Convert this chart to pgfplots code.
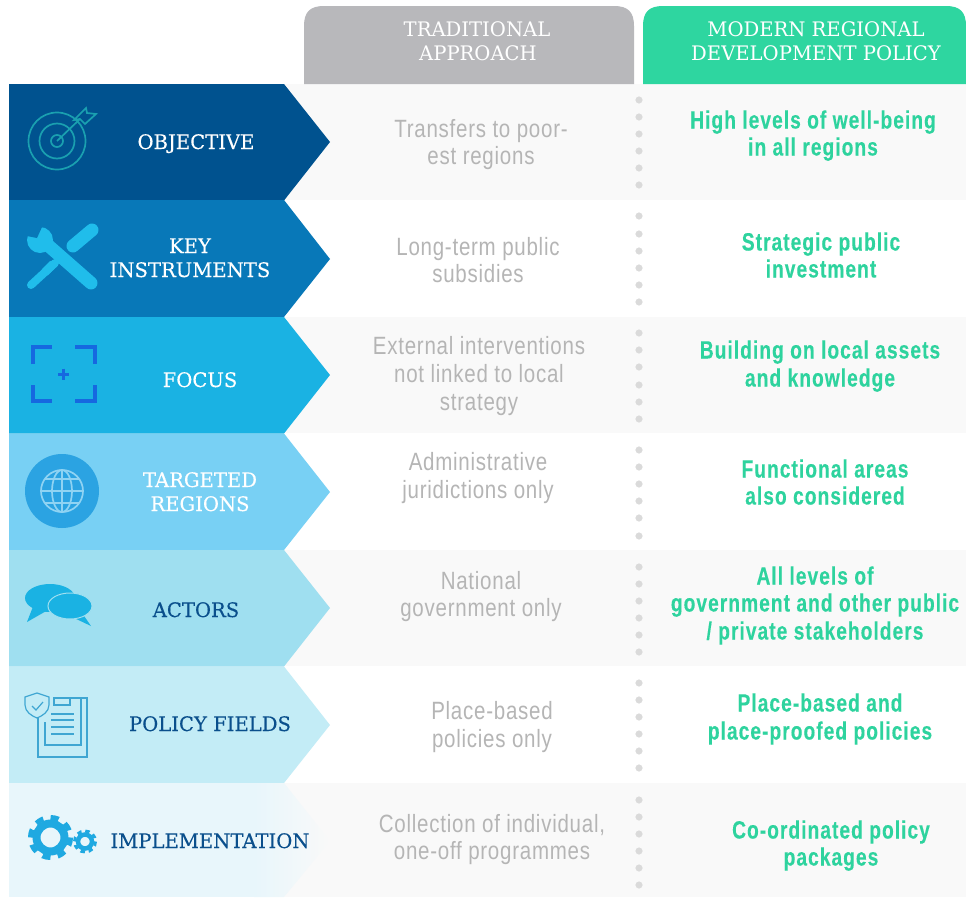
\documentclass[border=0pt]{standalone}
\usepackage{pgfplots}
\pgfplotsset{compat=1.18}
\usepackage{fontspec}
\setmainfont{Liberation Sans}
\newfontfamily\headf[FakeStretch=0.98]{DejaVu Serif}
\newfontfamily\labf[FakeStretch=0.98,FakeBold=0.25]{DejaVu Serif}
\newfontfamily\bodyf[FakeStretch=0.82,LetterSpace=3]{Liberation Sans}
\newfontfamily\boldf[UprightFont={* Bold},FakeStretch=0.77,LetterSpace=4,FakeBold=0.2]{Liberation Sans}
\definecolor{c1}{HTML}{00528F}
\definecolor{c2}{HTML}{0878B8}
\definecolor{c3}{HTML}{1AB2E3}
\definecolor{c4}{HTML}{78D0F4}
\definecolor{c5}{HTML}{9FDFF0}
\definecolor{c6}{HTML}{C3ECF6}
\definecolor{c7}{HTML}{E8F6FB}
\definecolor{rowg}{HTML}{F9F9F9}
\definecolor{hgray}{HTML}{B8B8BB}
\definecolor{hgreen}{HTML}{2ED6A0}
\definecolor{tgray}{HTML}{B5B5B5}
\definecolor{tgreen}{HTML}{2ED39E}
\definecolor{navy}{HTML}{0A4F8C}
\definecolor{dotg}{HTML}{DADADA}
\definecolor{wrench}{HTML}{20BDEB}
\newcommand{\Gt}[3]{\node[text=tgray,font=\fontsize{25}{25}\selectfont\bodyf,anchor=base,inner sep=0pt] at (axis cs:#1,#2+8.5) {#3};}
\newcommand{\Mt}[3]{\node[text=tgreen,font=\fontsize{25}{25}\selectfont\boldf,anchor=base,inner sep=0pt] at (axis cs:#1,#2+8.5) {#3};}
\newcommand{\Lw}[3]{\node[text=white,font=\fontsize{20}{20}\selectfont\labf,anchor=base,inner sep=0pt] at (axis cs:#1,#2+7) {#3};}
\newcommand{\Ln}[3]{\node[text=navy,font=\fontsize{20}{20}\selectfont\labf,anchor=base,inner sep=0pt] at (axis cs:#1,#2+7) {#3};}
\newcommand{\Hd}[3]{\node[text=white,font=\fontsize{20}{20}\selectfont\headf,anchor=base,inner sep=0pt] at (axis cs:#1,#2+7) {#3};}
\begin{document}
\begin{tikzpicture}
\begin{axis}[scale only axis,width=966pt,height=897pt,xmin=0,xmax=966,ymin=0,ymax=897,y dir=reverse,axis lines=none,clip=true]
\fill[white] (0,0) rectangle (966,897);
% row backgrounds
\addplot[draw=none,fill=rowg] coordinates {(284,84)(966,84)(966,200)(284,200)} --cycle;
\addplot[draw=none,fill=rowg] coordinates {(284,317)(966,317)(966,433)(284,433)} --cycle;
\addplot[draw=none,fill=rowg] coordinates {(284,550)(966,550)(966,666)(284,666)} --cycle;
\addplot[draw=none,fill=rowg] coordinates {(284,783)(966,783)(966,897)(284,897)} --cycle;
% headers
\fill[hgray] (304,84)--(304,26) .. controls (304,12) and (310,6) .. (324,6) -- (614,6) .. controls (628,6) and (634,12) .. (634,26) -- (634,84) -- cycle;
\fill[hgreen] (643,84)--(643,26) .. controls (643,12) and (649,6) .. (663,6) -- (946,6) .. controls (960,6) and (966,12) .. (966,26) -- (966,84) -- cycle;
% chevrons
\addplot[draw=none,fill=c1] coordinates {(9,84)(284,84)(330,142)(284,200.5)(9,200.5)} --cycle;
\addplot[draw=none,fill=c2] coordinates {(9,200)(284,200)(330,259)(284,317)(9,317)} --cycle;
\addplot[draw=none,fill=c3] coordinates {(9,317)(284,317)(330,375)(284,433.5)(9,433.5)} --cycle;
\addplot[draw=none,fill=c4] coordinates {(9,433.5)(284,433.5)(330,492)(284,550)(9,550)} --cycle;
\addplot[draw=none,fill=c5] coordinates {(9,550)(284,550)(330,608)(284,666.5)(9,666.5)} --cycle;
\addplot[draw=none,fill=c6] coordinates {(9,666.5)(284,666.5)(330,725)(284,783)(9,783)} --cycle;
\addplot[draw=none,fill=c7] coordinates {(9,783)(255,783)(255,897)(9,897)} --cycle;
\addplot[draw=none,left color=c7,right color=rowg] coordinates {(254,783)(284,783)(330,841)(284,897)(254,897)} --cycle;
% dotted separators
\addplot[only marks,mark=*,color=dotg,mark size=3.3pt] coordinates {
(639,100)(639,117)(639,134)(639,151)(639,168)(639,185)
(639,216)(639,234)(639,251)(639,268)(639,285)(639,302)
(639,333)(639,350)(639,367)(639,385)(639,402)(639,419)
(639,450)(639,467)(639,484)(639,501)(639,518)(639,536)
(639,567)(639,584)(639,601)(639,618)(639,635)(639,652)
(639,683)(639,700)(639,717)(639,734)(639,751)(639,768)
(639,800)(639,817)(639,834)(639,851)(639,868)(639,885)};
% header text
\Hd{477}{29}{TRADITIONAL}
\Hd{478}{53}{APPROACH}
\Hd{816}{29}{MODERN REGIONAL}
\Hd{816}{53}{DEVELOPMENT POLICY}
% column 2
\Gt{481}{129}{Transfers to poor-}
\Gt{481}{156}{est regions}
\Gt{478}{247}{Long-term public}
\Gt{478}{274}{subsidies}
\Gt{479}{346}{External interventions}
\Gt{479}{374}{not linked to local}
\Gt{479}{402}{strategy}
\Gt{478}{462}{Administrative}
\Gt{478}{490}{juridictions only}
\Gt{481}{581}{National}
\Gt{481}{608}{government only}
\Gt{492}{711}{Place-based}
\Gt{492}{739}{policies only}
\Gt{492}{824}{Collection of individual,}
\Gt{492}{851}{one-off programmes}
% column 3
\Mt{813}{120}{High levels of well-being}
\Mt{813}{147}{in all regions}
\Mt{821}{242}{Strategic public}
\Mt{821}{269}{investment}
\Mt{820}{350}{Building on local assets}
\Mt{820}{378}{and knowledge}
\Mt{825}{469}{Functional areas}
\Mt{825}{496}{also considered}
\Mt{815}{576}{All levels of}
\Mt{815}{603}{government and other public}
\Mt{815}{631}{/ private stakeholders}
\Mt{820}{703}{Place-based and}
\Mt{820}{731}{place-proofed policies}
\Mt{831}{830}{Co-ordinated policy}
\Mt{831}{857}{packages}
% chevron labels
\Lw{196}{142}{OBJECTIVE}
\Lw{190}{246}{KEY}
\Lw{190}{270}{INSTRUMENTS}
\Lw{200}{380}{FOCUS}
\Lw{200}{480}{TARGETED}
\Lw{200}{504}{REGIONS}
\Ln{196}{610}{ACTORS}
\Ln{210}{724}{POLICY FIELDS}
\Ln{210}{841}{IMPLEMENTATION}
% target icon
\begin{scope}[draw={rgb,255:red,26;green,160;blue,176},line width=1.7pt]
\draw (57,141) circle[radius=28.5];
\draw (57,141) circle[radius=17.5];
\draw (57,141) circle[radius=6];
\draw (57,141)--(80,119);
\draw (74,120)--(86,108)--(87,113)--(96,114)--(85,124)--(80,119)--(74,120)--(76,118);
\end{scope}
% wrench icon
\begin{scope}[color=wrench]
\fill (40,240) circle[radius=13];
\draw[line width=13pt,line cap=round] (42,240)--(91,283);
\draw[line width=13pt,line cap=round] (92,230)--(73,246);
\draw[line width=8pt,line cap=round] (55,263)--(31,285);
\draw[line width=12pt] (46,265)--(52,271);
\end{scope}
\fill[c2] (37,238)--(27,236)--(20,225)--(33,220)--(42,227)--cycle;
% focus icon
\begin{scope}[draw={rgb,255:red,22;green,104;blue,224},line width=4pt]
\draw (33,364)--(33,347)--(52,347);
\draw (75,347)--(95,347)--(95,364);
\draw (33,385)--(33,401)--(52,401);
\draw (75,401)--(95,401)--(95,385);
\draw[line width=3pt] (58,374)--(69,374);
\draw[line width=3pt] (63.5,368.5)--(63.5,379.5);
\end{scope}
% globe icon
\fill[color={rgb,255:red,43;green,163;blue,226}] (62,491) circle[radius=37];
\begin{scope}[draw={rgb,255:red,143;green,211;blue,243},line width=1.7pt]
\draw (62,491) circle[radius=21];
\draw (62,470)--(62,512);
\draw (41,491)--(83,491);
\draw (45,479)--(79,479);
\draw (45,503)--(79,503);
\draw (62,491) ellipse[x radius=10,y radius=21];
\end{scope}
% speech icon
\fill[c3] (50,598) ellipse[x radius=25,y radius=14];
\fill[c3] (34,604)--(27,622)--(48,610)--cycle;
\fill[c3] (80,610)--(91,626)--(72,617)--cycle;
\draw[c5,fill=c3,line width=1pt] (70,606) ellipse[x radius=22,y radius=13];
% policy icon
\begin{scope}[draw={rgb,255:red,63;green,166;blue,210},line width=1.2pt]
\draw (38,712)--(38,757)--(87,757)--(87,698)--(70,698);
\draw (45,722)--(45,745)--(81,745)--(81,698);
\draw (54,698)--(70,698)--(70,705)--(54,705)--cycle;
\draw (51,714)--(74,714);
\draw (51,720)--(74,720);
\draw (51,727)--(74,727);
\draw (51,734)--(74,734);
\draw[fill=c6] (25,697)--(37,693)--(49,697)--(49,705) .. controls (49,712) and (42,716) .. (37,718) .. controls (32,716) and (25,712) .. (25,705)--cycle;
\draw (32,706)--(36,710)--(43,702);
\end{scope}
% gears icon
\begin{scope}[draw={rgb,255:red,31;green,169;blue,225}]
\draw[line width=8pt] (50.5,837.5) circle[radius=14];
\draw[line width=5pt,dash pattern=on 8.2pt off 7.5pt] (50.5,837.5) circle[radius=20];
\draw[line width=4.5pt] (85,841.5) circle[radius=7];
\draw[line width=3pt,dash pattern=on 4.4pt off 3.84pt] (85,841.5) circle[radius=10.5];
\end{scope}
\end{axis}
\end{tikzpicture}
\end{document}
